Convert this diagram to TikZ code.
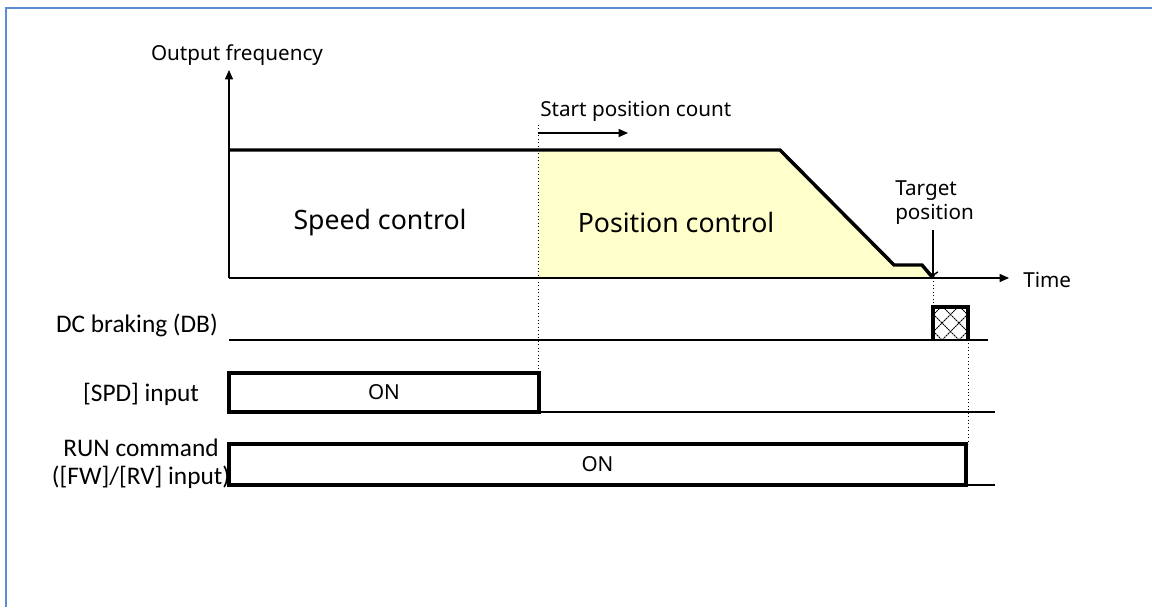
\documentclass[tikz,border=0pt]{standalone}
\usepackage{fontspec}
\setmainfont{Noto Sans}
\newfontfamily\calfont{Carlito}
\usetikzlibrary{arrows.meta, positioning, calc}

\begin{document}
\begin{tikzpicture}[
    x=0.75pt, y=-0.75pt,
    >={Triangle[length=7pt, width=6pt]},
    frame/.style = {draw={rgb,255:red,91;green,141;blue,213}, line width=1.6pt},
    axis/.style = {draw, line width=1.1pt},
    profile/.style = {draw, line width=2.6pt, line join=miter},
    posfill/.style = {fill={rgb,255:red,255;green,255;blue,204}},
    onbox/.style = {draw, line width=2.4pt},
    level/.style = {draw, line width=1.1pt},
    guide/.style = {draw, dotted, line width=0.6pt},
    hatch/.style = {draw, line width=0.7pt, dash pattern=on 1.5pt off 0.5pt},
    lbl/.style = {font=\fontsize{15.5}{18}\selectfont, inner sep=0pt},
    region/.style = {font=\fontsize{20}{24}\selectfont, inner sep=0pt},
    sig/.style = {font=\calfont\fontsize{19}{21}\selectfont, align=center, inner sep=0pt}
]
    \useasboundingbox (0,0) rectangle (1152,607);
    \draw [frame] (6,607) -- (6,8) -- (1152,8);

    % frequency profile points
    \coordinate (o) at (229,278);
    \coordinate (ytop) at (229,70);
    \coordinate (xend) at (1009,278);
    \coordinate (f0) at (229,150);
    \coordinate (sp) at (538,150);
    \coordinate (f1) at (780,150);
    \coordinate (f2) at (894,265);
    \coordinate (f3) at (922,265);
    \coordinate (tg) at (933,278);

    \fill [posfill] (sp) -- (f1) -- (f2) -- (f3) -- (tg) -- (sp |- o) -- cycle;
    \draw [axis, ->] (o) -- (ytop);
    \draw [axis, ->] (o) -- (xend);
    \draw [profile] (f0) -- (f1) -- (f2) -- (f3) -- (tg);

    \node [lbl] (yname) at (237,55) {Output frequency};
    \node [lbl, anchor=west] (tname) at (1023,280) {Time};
    \node [region] (speed) at (380,223) {Speed control};
    \node [region] (pos) at (676,222) {Position control};

    % start of position count
    \node [lbl, anchor=west] (count) at (540,111) {Start position count};
    \coordinate (c0) at (538,133);
    \coordinate (c1) at (628,133);
    \draw [level, ->] (c0) -- (c1);

    % target position
    \node [lbl, align=left, anchor=north west] (target) at (895,180) {Target\\position};
    \coordinate (t0) at (933,230);
    \draw [level, -{To[length=5pt, width=8pt]}] (t0) -- (tg);

    % DC braking
    \node [sig, anchor=east] (dbname) at (218,325) {DC braking (DB)};
    \coordinate (db0) at (229,340);
    \coordinate (db1) at (988,340);
    \draw [level] (db0) -- (db1);
    \coordinate (dba) at (933,307);
    \coordinate (dbb) at (968,340);
    \begin{scope}
        \clip (dba) rectangle (dbb);
        \foreach \d in {-34,-17,...,34}
            \draw [hatch] (942+\d,340) -- ++(40,-40) (959+\d,340) -- ++(-40,-40);
    \end{scope}
    \draw [onbox] (dba |- dbb) -- (dba) -- (dbb |- dba) -- (dbb);

    % SPD input
    \node [sig] (spdname) at (141,394) {[SPD] input};
    \coordinate (s0) at (229,373);
    \coordinate (s1) at (539,412);
    \coordinate (s2) at (995,412);
    \draw [onbox] (s0) rectangle (s1);
    \node [lbl] (spdon) at ($(s0)!0.5!(s1)$) {ON};
    \draw [level] (s1) -- (s2);

    % RUN command
    \node [sig] (runname) at (141,464) {RUN command\\([FW]/[RV] input)};
    \coordinate (r0) at (229,444);
    \coordinate (r1) at (966,485);
    \coordinate (r2) at (995,485);
    \draw [onbox] (r0) rectangle (r1);
    \node [lbl] (runon) at ($(r0)!0.5!(r1)$) {ON};
    \draw [level] (r1) -- (r2);

    % guide lines
    \draw [guide] (538,125) -- (sp);
    \draw [guide] (sp) -- (sp |- s0);
    \draw [guide] (tg) -- (dba);
    \draw [guide] (dbb) -- (dbb |- r0);
\end{tikzpicture}
\end{document}
